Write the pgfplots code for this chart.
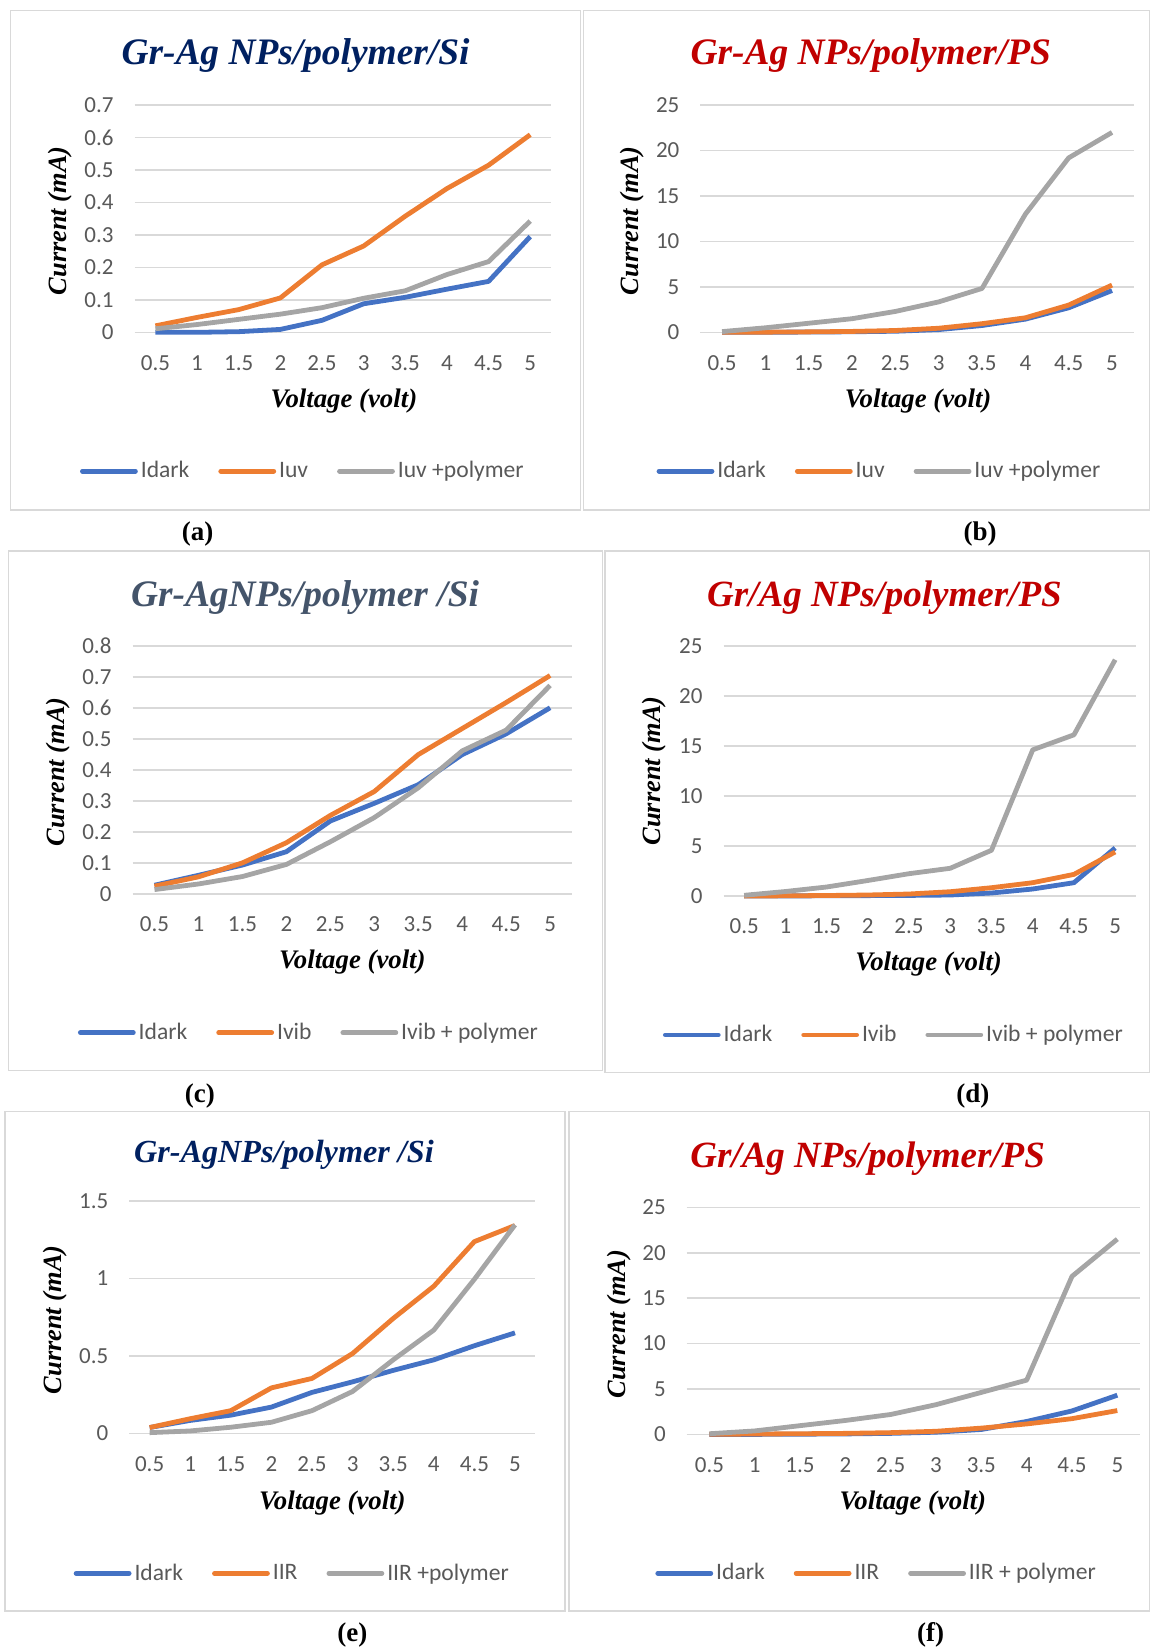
\documentclass[border=0pt]{standalone}
\usepackage{fontspec}
\setmainfont{Liberation Serif}
\newfontfamily\calib{Carlito}
\usepackage{pgfplots}
\pgfplotsset{compat=1.18}
\definecolor{cblue}{HTML}{4472C4}
\definecolor{corange}{HTML}{ED7D31}
\definecolor{cgray}{HTML}{A5A5A5}
\definecolor{gridc}{HTML}{D9D9D9}
\definecolor{tickc}{HTML}{595959}
\definecolor{navy}{HTML}{002060}
\definecolor{darkred}{HTML}{C00000}
\definecolor{slate}{HTML}{44546A}
\pgfplotsset{
  panel/.style={
    scale only axis, anchor=south west, clip=false,
    axis line style={draw=none}, major tick style={draw=none}, minor tick style={draw=none},
    ymajorgrids, grid style={line width=0.8pt, gridc},
    xmin=0.25, xmax=5.25, ymin=0,
    xtick={0.5,1,1.5,2,2.5,3,3.5,4,4.5,5},
    ticklabel style={font=\calib\fontsize{11.5}{13}\selectfont, text=tickc},
    /pgf/number format/assume math mode=true,
    xticklabel shift=8pt, yticklabel shift=7pt,
    legend columns=3, legend cell align=left,
    legend style={draw=none, fill=none, anchor=west, inner sep=0pt,
      font=\calib\fontsize{11.8}{13}\selectfont, text=tickc,
      nodes={inner xsep=1.5pt},
      /tikz/every even column/.append style={column sep=13pt}},
    legend image code/.code={\draw[##1, line width=2.4pt, line cap=round] (0pt,0pt) -- (26.5pt,0pt);},
    every axis plot/.append style={line width=2.4pt, line join=round, mark=none},
  },
  sd/.style={cblue}, so/.style={corange}, sg/.style={cgray},
}
\begin{document}
\begin{tikzpicture}
\useasboundingbox (0,0) rectangle (575.5pt,-824.85pt);
\begin{scope}[x=0.52605pt,y=-0.52605pt]
\draw[gridc, line width=0.8pt] (10,10) rectangle (552,485);
\draw[gridc, line width=0.8pt] (555,10) rectangle (1093,485);
\draw[gridc, line width=0.8pt] (8,524) rectangle (573,1018);
\draw[gridc, line width=0.8pt] (575,524) rectangle (1093,1020);
\draw[gridc, line width=0.8pt] (5,1057) rectangle (537,1532);
\draw[gridc, line width=0.8pt] (541,1057) rectangle (1093,1532);
% titles
\node[anchor=base, text=navy, font=\fontsize{18.7}{20}\selectfont\bfseries\itshape] at (281,61) {Gr-Ag NPs/polymer/Si};
\node[anchor=base, text=darkred, font=\fontsize{18.7}{20}\selectfont\bfseries\itshape] at (828,61) {Gr-Ag NPs/polymer/PS};
\node[anchor=base, text=slate, font=\fontsize{18.7}{20}\selectfont\bfseries\itshape] at (290,577) {Gr-AgNPs/polymer /Si};
\node[anchor=base, text=darkred, font=\fontsize{18.5}{20}\selectfont\bfseries\itshape] at (841,577) {Gr/Ag NPs/polymer/PS};
\node[anchor=base, text=navy, font=\fontsize{16.1}{18}\selectfont\bfseries\itshape] at (270,1105) {Gr-AgNPs/polymer /Si};
\node[anchor=base, text=darkred, font=\fontsize{18.5}{20}\selectfont\bfseries\itshape] at (825,1110) {Gr/Ag NPs/polymer/PS};
% x labels
\foreach \x/\y in {327/381, 873/381, 335/915, 883/917, 316/1429, 868/1429}
  \node[font=\fontsize{13.4}{15}\selectfont\bfseries\itshape] at (\x,\y) {Voltage (volt)};
% y labels
\foreach \x/\y in {57/210, 601/210, 55/734, 622/733, 52/1255, 589/1259}
  \node[rotate=90, font=\fontsize{13.2}{15}\selectfont\bfseries\itshape] at (\x,\y) {Current (mA)};
% captions
\node[font=\fontsize{13.5}{15}\selectfont\bfseries] at (188,508) {(a)};
\node[font=\fontsize{13.5}{15}\selectfont\bfseries] at (932,508) {(b)};
\node[font=\fontsize{13.5}{15}\selectfont\bfseries] at (190,1042) {(c)};
\node[font=\fontsize{13.5}{15}\selectfont\bfseries] at (925,1042) {(d)};
\node[font=\fontsize{13.5}{15}\selectfont\bfseries] at (335,1555) {(e)};
\node[font=\fontsize{13.5}{15}\selectfont\bfseries] at (885,1555) {(f)};
\end{scope}

% (a)
\begin{axis}[panel, at={(67.33pt,-166.23pt)}, width=208.32pt, height=113.63pt,
  ymax=0.7, ytick={0,0.1,0.2,0.3,0.4,0.5,0.6,0.7},
  legend style={at={(-0.132,-0.611)}}]
\addplot[sd] coordinates {(0.5,0.000) (1,0.000) (1.5,0.002) (2,0.009) (2.5,0.037) (3,0.088) (3.5,0.108) (4,0.133) (4.5,0.157) (5,0.295)};
\addlegendentry{Idark}
\addplot[so] coordinates {(0.5,0.020) (1,0.046) (1.5,0.070) (2,0.106) (2.5,0.208) (3,0.266) (3.5,0.358) (4,0.443) (4.5,0.515) (5,0.609)};
\addlegendentry{Iuv}
\addplot[sg] coordinates {(0.5,0.011) (1,0.024) (1.5,0.040) (2,0.056) (2.5,0.076) (3,0.105) (3.5,0.128) (4,0.178) (4.5,0.218) (5,0.343)};
\addlegendentry{Iuv +polymer}
\end{axis}

% (b)
\begin{axis}[panel, at={(350.35pt,-166.23pt)}, width=216.73pt, height=113.63pt,
  ymax=25, ytick={0,5,10,15,20,25},
  legend style={at={(-0.102,-0.611)}}]
\addplot[sd] coordinates {(0.5,0.00) (1,0.01) (1.5,0.03) (2,0.06) (2.5,0.12) (3,0.30) (3.5,0.75) (4,1.45) (4.5,2.70) (5,4.60)};
\addlegendentry{Idark}
\addplot[so] coordinates {(0.5,0.00) (1,0.02) (1.5,0.05) (2,0.10) (2.5,0.20) (3,0.45) (3.5,0.95) (4,1.60) (4.5,3.00) (5,5.20)};
\addlegendentry{Iuv}
\addplot[sg] coordinates {(0.5,0.08) (1,0.50) (1.5,1.00) (2,1.50) (2.5,2.30) (3,3.35) (3.5,4.83) (4,13.0) (4.5,19.2) (5,22.0)};
\addlegendentry{Iuv +polymer}
\end{axis}

% (c)
\begin{axis}[panel, at={(66.28pt,-447.14pt)}, width=219.89pt, height=124.15pt,
  ymax=0.8, ytick={0,0.1,0.2,0.3,0.4,0.5,0.6,0.7,0.8},
  legend style={at={(-0.125,-0.559)}}]
\addplot[sd] coordinates {(0.5,0.028) (1,0.060) (1.5,0.093) (2,0.136) (2.5,0.235) (3,0.292) (3.5,0.352) (4,0.449) (4.5,0.516) (5,0.600)};
\addlegendentry{Idark}
\addplot[so] coordinates {(0.5,0.025) (1,0.055) (1.5,0.100) (2,0.165) (2.5,0.253) (3,0.330) (3.5,0.449) (4,0.533) (4.5,0.617) (5,0.704)};
\addlegendentry{Ivib}
\addplot[sg] coordinates {(0.5,0.014) (1,0.032) (1.5,0.056) (2,0.095) (2.5,0.168) (3,0.246) (3.5,0.342) (4,0.461) (4.5,0.528) (5,0.672)};
\addlegendentry{Ivib + polymer}
\end{axis}

% (d)
\begin{axis}[panel, at={(361.92pt,-448.19pt)}, width=206.21pt, height=125.20pt,
  ymax=25, ytick={0,5,10,15,20,25},
  legend style={at={(-0.148,-0.555)}}]
\addplot[sd] coordinates {(0.5,0.00) (1,0.01) (1.5,0.02) (2,0.04) (2.5,0.06) (3,0.10) (3.5,0.30) (4,0.70) (4.5,1.33) (5,4.80)};
\addlegendentry{Idark}
\addplot[so] coordinates {(0.5,0.00) (1,0.02) (1.5,0.05) (2,0.10) (2.5,0.20) (3,0.43) (3.5,0.83) (4,1.33) (4.5,2.16) (5,4.40)};
\addlegendentry{Ivib}
\addplot[sg] coordinates {(0.5,0.07) (1,0.45) (1.5,0.90) (2,1.55) (2.5,2.23) (3,2.77) (3.5,4.57) (4,14.6) (4.5,16.1) (5,23.6)};
\addlegendentry{Ivib + polymer}
\end{axis}

% (e)
\begin{axis}[panel, at={(64.70pt,-717.01pt)}, width=203.06pt, height=116.26pt,
  ymax=1.5, ytick={0,0.5,1,1.5},
  legend style={at={(-0.138,-0.602)}}]
\addplot[sd] coordinates {(0.5,0.038) (1,0.084) (1.5,0.118) (2,0.170) (2.5,0.265) (3,0.333) (3.5,0.407) (4,0.475) (4.5,0.566) (5,0.649)};
\addlegendentry{Idark}
\addplot[so] coordinates {(0.5,0.038) (1,0.095) (1.5,0.147) (2,0.294) (2.5,0.355) (3,0.516) (3.5,0.742) (4,0.950) (4.5,1.238) (5,1.342)};
\addlegendentry{IIR}
\addplot[sg] coordinates {(0.5,0.005) (1,0.016) (1.5,0.040) (2,0.072) (2.5,0.147) (3,0.271) (3.5,0.475) (4,0.667) (4.5,0.995) (5,1.346)};
\addlegendentry{IIR +polymer}
\end{axis}

% (f)
\begin{axis}[panel, at={(343.51pt,-717.53pt)}, width=226.73pt, height=113.63pt,
  ymax=25, ytick={0,5,10,15,20,25},
  legend style={at={(-0.070,-0.611)}}]
\addplot[sd] coordinates {(0.5,0.00) (1,0.01) (1.5,0.03) (2,0.06) (2.5,0.12) (3,0.25) (3.5,0.55) (4,1.43) (4.5,2.59) (5,4.32)};
\addlegendentry{Idark}
\addplot[so] coordinates {(0.5,0.02) (1,0.05) (1.5,0.08) (2,0.12) (2.5,0.20) (3,0.35) (3.5,0.70) (4,1.16) (4.5,1.74) (5,2.63)};
\addlegendentry{IIR}
\addplot[sg] coordinates {(0.5,0.08) (1,0.39) (1.5,0.97) (2,1.54) (2.5,2.20) (3,3.28) (3.5,4.63) (4,5.98) (4.5,17.4) (5,21.5)};
\addlegendentry{IIR + polymer}
\end{axis}
\end{tikzpicture}
\end{document}
